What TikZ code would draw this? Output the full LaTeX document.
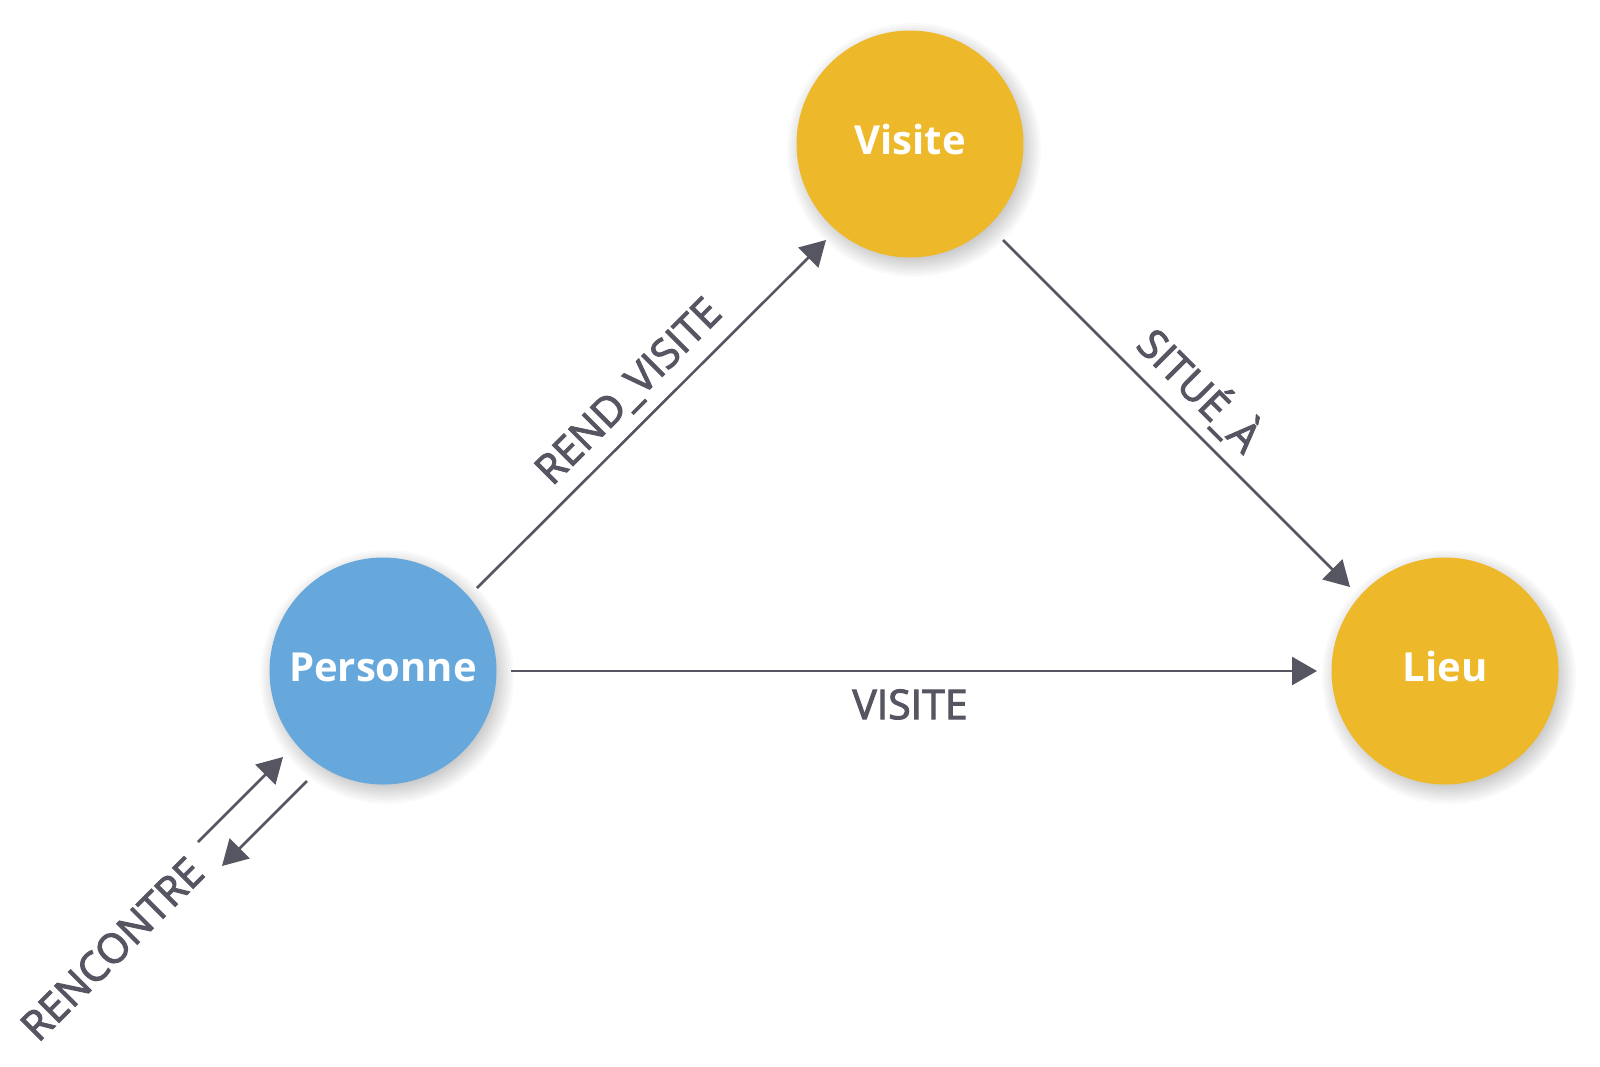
\documentclass[tikz,border=0pt]{standalone}
\usepackage{fontspec}
\setmainfont{Open Sans}
\newfontfamily\labfont[FakeBold=2.5]{Open Sans}
\usetikzlibrary{arrows.meta,calc}
\definecolor{gold}{HTML}{EDB92A}
\definecolor{sky}{HTML}{66A8DB}
\definecolor{ink}{HTML}{555661}
\begin{document}
\begin{tikzpicture}[x=0.5pt,y=-0.5pt,
  ent/.style={circle, minimum size=113.5pt, inner sep=0pt, outer sep=0pt, text=white,
    text height=15pt, text depth=5pt,
    font=\fontsize{20pt}{24pt}\selectfont\bfseries},
  edge/.style={draw=ink, line width=1.3pt, -{Triangle[length=12.5pt,width=14pt]}},
  lab/.style={text=ink, font=\labfont\fontsize{20.5pt}{24pt}\selectfont, inner sep=0pt}]
\useasboundingbox (0,0) rectangle (1600,1066);
\fill[white] (0,0) rectangle (1600,1066);
\coordinate (cV) at (910,144);
\coordinate (cP) at (383,671);
\coordinate (cL) at (1445,671);
% soft shadows
\foreach \c in {cV,cP,cL}{
  \foreach \k in {0,...,13}{
    \fill[black, opacity=0.018] ($(\c)+(4,6)$) circle[radius={127-2*\k}];
  }
}
\node[ent, fill=gold] (V) at (cV) {Visite};
\node[ent, fill=sky] (P) at (cP) {Personne};
\node[ent, fill=gold] (L) at (cL) {Lieu};
% edges
\draw[edge] ($(P)+(94,-83)$) -- ($(V)+(-84,96)$);
\draw[edge] ($(V)+(93,96)$) -- ($(L)+(-95,-84)$);
\draw[edge] ($(P)+(128,0)$) -- ($(L)+(-128,0)$);
\coordinate (r1a) at ($(P)+(-185,171)$);
\coordinate (r1b) at ($(P)+(-100,86)$);
\coordinate (r2a) at ($(P)+(-76,110)$);
\coordinate (r2b) at ($(P)+(-161,195)$);
\draw[edge] (r1a) -- (r1b);
\draw[edge] (r2a) -- (r2b);
% labels
\node[lab, rotate=45, anchor=base] (lrv) at (638,401) {REND\_VISITE};
\node[lab, rotate=-45, anchor=base] (lsa) at (1189,401) {SITUÉ\_À};
\node[lab, anchor=north] (lvi) at (910,689) {VISITE};
\node[lab, rotate=45] (lre) at (112,949) {RENCONTRE};
\end{tikzpicture}
\end{document}
